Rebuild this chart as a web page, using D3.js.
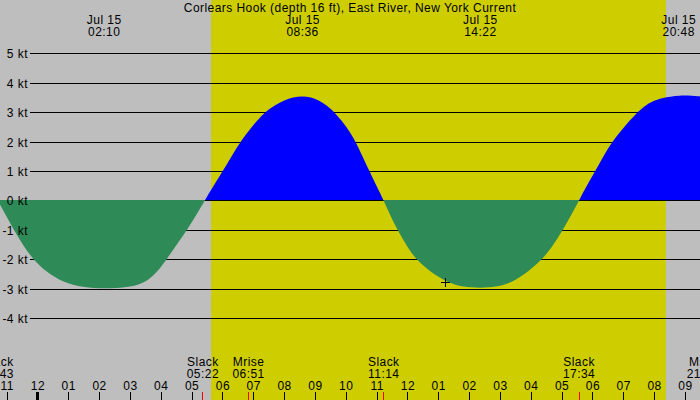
<!DOCTYPE html>
<html>
<head>
<meta charset="utf-8">
<script src="https://cdn.jsdelivr.net/npm/d3@7"></script>
<style>
  html, body { margin: 0; padding: 0; background: #bebebe; }
  svg { display: block; }
  text { font-family: "Liberation Sans", Arial, sans-serif; font-size: 12px; letter-spacing: 0.45px; fill: #000; }
</style>
</head>
<body>
<script>
// ---------- data ----------
const title = "Corlears Hook (depth 16 ft), East River, New York Current";

// current speed (knots, + flood / - ebb) at hours since Jul 15 00:00
const curveHours = [-1.50, -1.283, -1.018, -0.752, -0.461, -0.143, 0.30, 0.83, 1.48, 2.167, 3.00, 3.52, 3.88, 4.19, 4.50, 4.84, 5.144, 5.43,
  5.663, 6.004, 6.32, 6.571, 6.912, 7.35, 7.706, 8.014, 8.29, 8.60, 8.874, 9.117, 9.376, 9.652, 10.067, 10.333, 10.524, 10.775, 11.034, 11.233,
  11.442, 11.689, 11.971, 12.263, 12.895, 13.437, 13.80, 14.367, 14.876, 15.273, 15.759, 16.389, 16.722, 17.030, 17.306, 17.567,
  17.77, 18.085, 18.377, 18.626, 18.993, 19.437, 19.739, 19.933, 20.258, 20.80, 21.49, 21.81];
const curveKnots = [0.40, 0, -0.51, -1.02, -1.53, -2.00, -2.44, -2.78, -2.96, -3.00, -2.96, -2.78, -2.44, -2.00, -1.53, -1.02, -0.51, 0,
  0.41, 0.98, 1.54, 1.96, 2.45, 2.98, 3.24, 3.41, 3.50, 3.55, 3.50, 3.41, 3.24, 2.98, 2.45, 1.96, 1.54, 0.98, 0.41, 0,
  -0.51, -1.02, -1.53, -2.00, -2.55, -2.83, -2.94, -2.98, -2.94, -2.83, -2.55, -2.00, -1.53, -1.02, -0.51, 0,
  0.41, 0.98, 1.54, 1.96, 2.45, 2.98, 3.24, 3.36, 3.48, 3.58, 3.54, 3.48];

const knotTicks = [5, 4, 3, 2, 1, 0, -1, -2, -3, -4];
const knotLabels = ["5 kt", "4 kt", "3 kt", "2 kt", "1 kt", "0 kt", "-1 kt", "-2 kt", "-3 kt", "-4 kt"];

const hourTicks = [-1, 0, 1, 2, 3, 4, 5, 6, 7, 8, 9, 10, 11, 12, 13, 14, 15, 16, 17, 18, 19, 20, 21];
const hourLabels = ["11", "12", "01", "02", "03", "04", "05", "06", "07", "08", "09", "10", "11",
  "12", "01", "02", "03", "04", "05", "06", "07", "08", "09"];

const daylight = ["05:38", "20:23"];

const maxDates = ["Jul 15", "Jul 15", "Jul 15", "Jul 15"];
const maxTimes = ["02:10", "08:36", "14:22", "20:48"];

const eventNames = ["Slack", "Slack", "Mrise", "Slack", "Slack", "Mset"];
const eventTimes = ["22:43", "05:22", "06:51", "11:14", "17:34", "21:35"];
const eventDays = [-1, 0, 0, 0, 0, 0];

const markHour = 13.22;
const markKnots = -2.78;

// ---------- drawing ----------
const W = 700, H = 400;
const hm = (s, day = 0) => { const [h, m] = s.split(":").map(Number); return day * 24 + h + m / 60; };

const x = d3.scaleLinear().domain([0, 12]).range([37.4, 407.4]);
const y = d3.scaleLinear().domain([0, 5]).range([200.4, 53.2]);

const svg = d3.select("body").append("svg").attr("width", W).attr("height", H);

// night background + daylight band
svg.append("rect").attr("width", W).attr("height", H).attr("fill", "#bebebe");
svg.append("rect")
  .attr("x", x(hm(daylight[0]))).attr("y", 0)
  .attr("width", x(hm(daylight[1])) - x(hm(daylight[0]))).attr("height", H)
  .attr("fill", "#cdcd00");

// grid lines
svg.append("g").selectAll("line").data(knotTicks).join("line")
  .attr("x1", 30).attr("x2", W)
  .attr("y1", d => Math.round(y(d)) + 0.5).attr("y2", d => Math.round(y(d)) + 0.5)
  .attr("stroke", "#000").attr("stroke-width", 1).attr("shape-rendering", "crispEdges");

// current areas
const base = Math.round(y(0));
const pts = curveHours.map((h, i) => [h, curveKnots[i]]);
const area = d3.area().x(d => x(d[0])).y0(base).y1(d => y(d[1])).curve(d3.curveBasis);
const defs = svg.append("defs");
defs.append("clipPath").attr("id", "above").append("rect").attr("x", 0).attr("y", 0).attr("width", W).attr("height", base);
defs.append("clipPath").attr("id", "below").append("rect").attr("x", 0).attr("y", base).attr("width", W).attr("height", H - base);
svg.append("path").datum(pts).attr("d", area).attr("fill", "#0000ff").attr("clip-path", "url(#above)");
svg.append("path").datum(pts).attr("d", area).attr("fill", "#2e8b57").attr("clip-path", "url(#below)");

// y labels
const yAxis = d3.axisLeft(y).tickValues(knotTicks).tickSize(0).tickPadding(2)
  .tickFormat((d, i) => knotLabels[i]);
const gy = svg.append("g").attr("transform", "translate(30,0)").call(yAxis);
gy.select(".domain").remove();
gy.attr("font-family", null).attr("font-size", null);
gy.selectAll("text").attr("y", 0).attr("dy", "0.36em");
gy.selectAll(".tick").attr("transform", d => `translate(0,${Math.round(y(d)) + 0.5})`);

// title
svg.append("text").attr("x", W / 2).attr("y", 12).attr("text-anchor", "middle").text(title);

// max current labels (top)
const topG = svg.append("g").selectAll("g").data(maxTimes).join("g")
  .attr("transform", d => `translate(${x(hm(d))},0)`);
topG.append("text").attr("y", 24).attr("text-anchor", "middle").text((d, i) => maxDates[i]);
topG.append("text").attr("y", 36).attr("text-anchor", "middle").text(d => d);

// event labels (bottom)
const evG = svg.append("g").selectAll("g").data(eventTimes).join("g")
  .attr("transform", (d, i) => `translate(${x(hm(d, eventDays[i]))},0)`);
evG.append("text").attr("y", 366).attr("text-anchor", "middle").text((d, i) => eventNames[i]);
evG.append("text").attr("y", 378).attr("text-anchor", "middle").text(d => d);

// hour axis
const xAxis = d3.axisTop(x).tickValues(hourTicks).tickSize(8).tickPadding(2)
  .tickFormat((d, i) => hourLabels[i]);
const gx = svg.append("g").attr("transform", `translate(0,${H})`).call(xAxis);
gx.select(".domain").remove();
gx.attr("font-family", null).attr("font-size", null);
gx.selectAll("line").attr("stroke", "#000").attr("shape-rendering", "crispEdges")
  .attr("stroke-width", d => d % 24 === 0 ? 3 : 1);

// event ticks (red)
svg.append("g").selectAll("line").data(eventTimes).join("line")
  .attr("x1", (d, i) => Math.floor(x(hm(d, eventDays[i]))) + 0.5)
  .attr("x2", (d, i) => Math.floor(x(hm(d, eventDays[i]))) + 0.5)
  .attr("y1", H - 8).attr("y2", H)
  .attr("stroke", "#ff0000").attr("stroke-width", 1).attr("shape-rendering", "crispEdges");

// current-time mark
const mx = Math.round(x(markHour)) + 0.5, my = Math.round(y(markKnots)) + 0.5;
const mark = svg.append("g").attr("stroke", "#000").attr("stroke-width", 1).attr("shape-rendering", "crispEdges");
mark.append("line").attr("x1", mx - 4.5).attr("x2", mx + 4.5).attr("y1", my).attr("y2", my);
mark.append("line").attr("x1", mx).attr("x2", mx).attr("y1", my - 4.5).attr("y2", my + 4.5);
</script>
</body>
</html>
